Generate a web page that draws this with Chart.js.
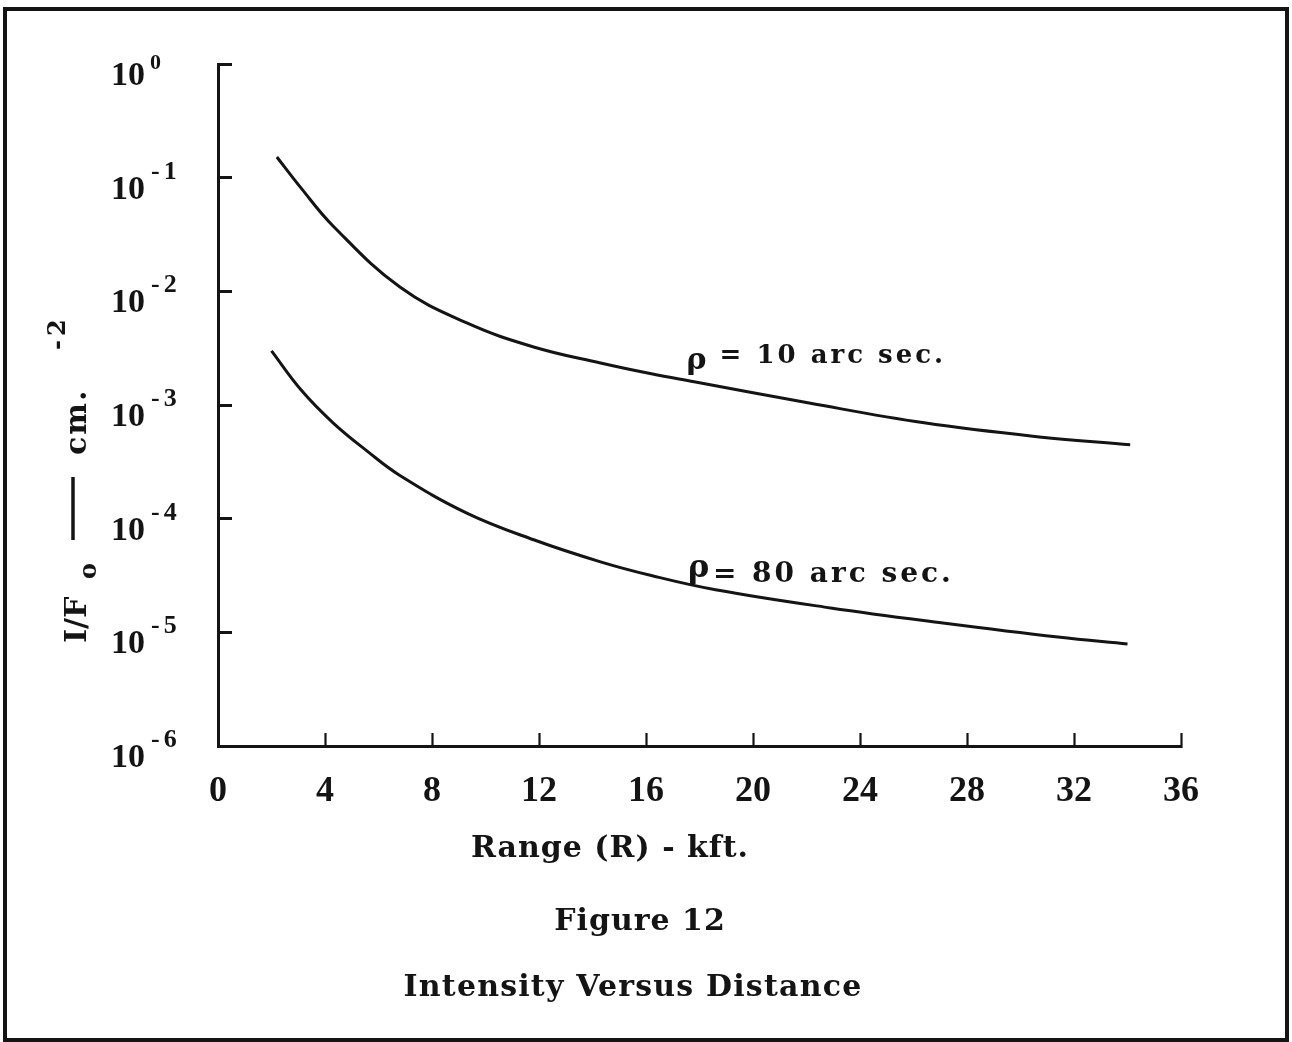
<!DOCTYPE html>
<html>
<head>
<meta charset="utf-8">
<title>Figure 12 - Intensity Versus Distance</title>
<script src="https://cdn.jsdelivr.net/npm/chart.js@4.4.1/dist/chart.umd.min.js"></script>
<style>
  html, body { margin: 0; padding: 0; background: #fff; }
  #wrap { position: relative; width: 1292px; height: 1042px; }
</style>
</head>
<body>
<div id="wrap"><canvas id="fig12"></canvas></div>
<script>
// Figure 12 (log scale, so read in decades)

const X_TICKS = [0, 4, 8, 12, 16, 20, 24, 28, 32, 36];
const Y_TICKS = [1, 1e-1, 1e-2, 1e-3, 1e-4, 1e-5, 1e-6];

// rho = 10 arc sec.
const RANGE_10 = [2.2, 3.1, 4.3, 6.8, 9.3, 11.8, 14.3, 16.2, 17.8, 22.1, 26.4, 30.7, 34.1];
const INTENSITY_10 = [1.52e-1, 8.13e-2, 3.76e-2, 1.09e-2, 5.27e-3, 3.24e-3, 2.34e-3, 1.88e-3, 1.60e-3, 1.04e-3, 6.97e-4, 5.24e-4, 4.46e-4];

// rho = 80 arc sec.
const RANGE_80 = [2.0, 3.1, 4.3, 5.6, 6.8, 9.3, 11.8, 14.3, 16.2, 18.6, 22.9, 27.1, 31.4, 34.0];
const INTENSITY_80 = [2.99e-3, 1.36e-3, 6.97e-4, 3.89e-4, 2.40e-4, 1.12e-4, 6.52e-5, 4.17e-5, 3.16e-5, 2.37e-5, 1.64e-5, 1.21e-5, 9.1e-6, 7.9e-6];

// curve captions, anchored in data units (x = kft, y = I/Fo)
const CURVE_LABELS = [
    { text: '= 10 arc sec.', x: 18.75, y: 2.35e-3, size: 26, rhoDx: -33, rhoDy: 6 },
    { text: '= 80 arc sec.', x: 18.5, y: 2.75e-5, size: 28, rhoDx: -25, rhoDy: -5 }
];

const INK = '#141414';
const SERIF = "'DejaVu Serif', serif";
const TIMES = "'Liberation Serif', serif";

const toPoints = (xs, ys) => xs.map((x, i) => ({ x: x, y: ys[i] }));

// --- text that Chart.js can't lay out itself (superscripts, rotated title, frame) ---
const paperPlugin = {
    id: 'paper',
    afterDraw(chart) {
        const { ctx, scales: { x, y } } = chart;
        ctx.save();
        ctx.fillStyle = INK;
        ctx.strokeStyle = INK;

        // page frame
        ctx.lineWidth = 4;
        ctx.strokeRect(5, 9, 1282, 1031);

        // decade labels 10^n
        ctx.textBaseline = 'alphabetic';
        Y_TICKS.forEach(v => {
            const py = y.getPixelForValue(v);
            const exp = Math.round(Math.log10(v));
            ctx.textAlign = 'right';
            ctx.font = `bold 34px ${TIMES}`;
            ctx.letterSpacing = '0px';
            ctx.fillText('10', 145, py + 21);
            ctx.textAlign = 'left';
            if (exp === 0) {
                ctx.font = `bold 22px ${TIMES}`;
                ctx.fillText('0', 150, py + 5);
            } else {
                ctx.font = `bold 26px ${TIMES}`;
                ctx.letterSpacing = '4px';
                ctx.fillText('-' + Math.abs(exp), 151, py + 1);
                ctx.letterSpacing = '0px';
            }
        });

        // y axis title  I/Fo —— cm.^-2 (rotated)
        ctx.save();
        ctx.translate(86, 643);
        ctx.rotate(-Math.PI / 2);
        ctx.textAlign = 'left';
        ctx.font = `bold 30px ${SERIF}`;
        ctx.fillText('I/F', 0, 0);
        ctx.font = `bold 24px ${SERIF}`;
        ctx.fillText('o', 64, 10);
        ctx.lineWidth = 3.5;
        ctx.beginPath();
        ctx.moveTo(103, -13);
        ctx.lineTo(166, -13);
        ctx.stroke();
        ctx.font = `bold 30px ${SERIF}`;
        ctx.letterSpacing = '2px';
        ctx.fillText('cm.', 188, 0);
        ctx.font = `bold 24px ${SERIF}`;
        ctx.letterSpacing = '4px';
        ctx.fillText('-2', 293, -21);
        ctx.restore();

        // x axis title and figure caption
        ctx.textAlign = 'center';
        ctx.font = `bold 30px ${SERIF}`;
        ctx.letterSpacing = '1px';
        ctx.fillText('Range (R) - kft.', 610, 857);
        ctx.fillText('Figure 12', 640, 930);
        ctx.letterSpacing = '1.2px';
        ctx.fillText('Intensity Versus Distance', 633, 996);

        // curve captions
        ctx.textAlign = 'left';
        CURVE_LABELS.forEach(l => {
            const px = x.getPixelForValue(l.x);
            const py = y.getPixelForValue(l.y);
            ctx.font = `bold ${l.size}px ${SERIF}`;
            ctx.letterSpacing = '3px';
            ctx.fillText(l.text, px, py);
            ctx.letterSpacing = '0px';
            ctx.font = `bold ${l.size + 4}px ${SERIF}`;
            ctx.fillText('ρ', px + l.rhoDx, py + l.rhoDy);
        });

        ctx.restore();
    }
};

new Chart(document.getElementById('fig12'), {
    type: 'line',
    data: {
        datasets: [
            {
                label: 'ρ = 10 arc sec.',
                data: toPoints(RANGE_10, INTENSITY_10),
                borderColor: INK,
                borderWidth: 3,
                pointRadius: 0,
                tension: 0.4,
                fill: false
            },
            {
                label: 'ρ = 80 arc sec.',
                data: toPoints(RANGE_80, INTENSITY_80),
                borderColor: INK,
                borderWidth: 3,
                pointRadius: 0,
                tension: 0.4,
                fill: false
            }
        ]
    },
    options: {
        responsive: true,
        maintainAspectRatio: false,
        animation: false,
        devicePixelRatio: 1,
        layout: { padding: { left: 0, top: 64, right: 111, bottom: 0 } },
        plugins: { legend: { display: false }, tooltip: { enabled: false } },
        scales: {
            x: {
                type: 'linear',
                min: 0,
                max: 36,
                afterBuildTicks: s => { s.ticks = X_TICKS.map(v => ({ value: v })); },
                afterFit: s => { s.height = 296; },
                grid: { drawOnChartArea: false, drawTicks: true, tickLength: -13, tickWidth: 2.2, color: INK },
                border: { display: true, color: INK, width: 3 },
                ticks: {
                    color: INK,
                    font: { family: TIMES, size: 36, weight: 'bold' },
                    padding: 37,
                    maxRotation: 0,
                    autoSkip: false
                }
            },
            y: {
                type: 'logarithmic',
                min: 1e-6,
                max: 1,
                afterBuildTicks: s => { s.ticks = Y_TICKS.map(v => ({ value: v })); },
                afterFit: s => { s.width = 218; },
                grid: { drawOnChartArea: false, drawTicks: true, tickLength: -14, tickWidth: 3, color: INK },
                border: { display: true, color: INK, width: 3 },
                ticks: { display: false }
            }
        }
    },
    plugins: [paperPlugin]
});
</script>
</body>
</html>
